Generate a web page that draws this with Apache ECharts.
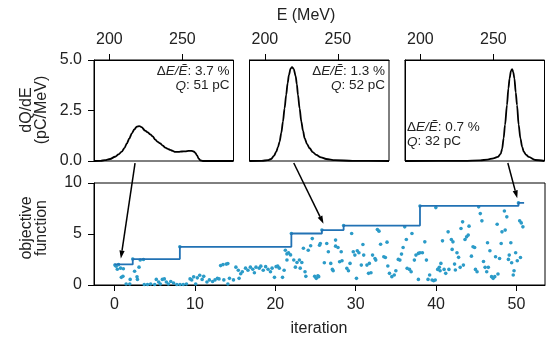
<!DOCTYPE html>
<html>
<head>
<meta charset="utf-8">
<script src="https://cdn.jsdelivr.net/npm/echarts@6/dist/echarts.min.js"></script>
<style>
  html, body {margin: 0; padding: 0; background: #fff;}
  #main {width: 546px; height: 339px;}
</style>
</head>
<body>
<div id="main"></div>
<script>
// electron spectra, E in MeV and dQ/dE in pC/MeV
const spec1E = [189.5, 194, 197, 200.5, 203.9, 206.3, 208.5, 210.3, 212, 213.7, 215.4, 217.1, 218.8, 220.5, 222, 224.5, 226.3, 228, 229.7, 231.4, 233.1, 234.8, 236.6, 238.3, 240, 241.7, 243.4, 245.1, 247.4, 249.7, 252, 254.3, 256.2, 257.7, 258.9, 260, 261.2, 262.3, 264, 285];
const spec1Q = [0, 0.01, 0.04, 0.1, 0.21, 0.33, 0.46, 0.64, 0.87, 1.12, 1.37, 1.56, 1.7, 1.73, 1.68, 1.5, 1.42, 1.32, 1.22, 1.06, 0.95, 0.87, 0.76, 0.66, 0.6, 0.55, 0.5, 0.45, 0.45, 0.47, 0.48, 0.5, 0.5, 0.47, 0.4, 0.28, 0.12, 0.03, 0, 0];
const spec2E = [189.5, 198, 202, 204.3, 206.2, 207.8, 209, 210.1, 211.3, 212.4, 213.5, 214.6, 215.6, 216.5, 217.6, 218.6, 219.8, 221.1, 221.9, 222.7, 223.8, 225, 226.1, 227.3, 228.8, 230.7, 232.8, 235.2, 238.5, 242, 248, 260, 285];
const spec2Q = [0, 0.01, 0.04, 0.1, 0.25, 0.46, 0.68, 0.96, 1.4, 1.95, 2.6, 3.27, 3.85, 4.26, 4.57, 4.65, 4.55, 4.2, 3.8, 3.27, 2.6, 1.95, 1.5, 1.12, 0.85, 0.63, 0.44, 0.3, 0.18, 0.1, 0.04, 0.01, 0];
const spec3E = [189.5, 230, 241, 246, 250, 253, 255, 256, 257, 258, 259.3, 260.3, 261.1, 262, 262.8, 263.6, 264.4, 265.3, 266.2, 267.3, 268.5, 269.7, 270.8, 272.5, 274.2, 278.7, 285];
const spec3Q = [0, 0.01, 0.03, 0.07, 0.13, 0.2, 0.35, 0.6, 1.12, 1.8, 2.77, 3.6, 4.09, 4.45, 4.55, 4.4, 4.09, 3.4, 2.77, 1.8, 1.12, 0.7, 0.46, 0.3, 0.2, 0.05, 0];
const spreads = ['3.7', '1.3', '0.7'];
const charges = ['51', '52', '32'];

// optimisation run: [iteration, objective]
const evaluations = [
  [0.05, 1.95], [0.2, 1.85], [0.35, 1.55], [0.5, 2.0], [0.75, 1.65], [1.1, 1.6], [0.85, 0.75], [1.05, 0.85],
  [1.45, 0.1], [1.95, 0.55], [1.9, 0.1], [2.27, 2.54], [2.5, 1.35], [2.8, 0.8], [2.85, 0.55], [3.05, 1.75],
  [3.2, 2.45], [3.6, 2.5], [3.7, 0.05], [4.1, 0.05], [4.5, 0.1], [5.0, 0.05], [5.2, 0.55], [5.5, 0.3],
  [5.7, 0.1], [5.95, 0.55], [6.2, 0.6], [6.45, 0.3], [6.7, 0.1], [7.0, 0.35], [7.35, 0.2], [7.75, 0.05],
  [8.13, 3.74], [8.15, 0.05], [8.55, 0.05], [8.95, 0.1], [9.4, 0.6], [9.6, 0.5], [9.85, 0.8], [10.1, 0.1],
  [10.3, 0.7], [10.6, 0.95], [10.9, 0.55], [11.1, 0.85], [11.5, 0.3], [11.8, 0.5], [12.2, 0.35], [12.5, 0.5],
  [12.8, 0.65], [13.0, 0.6], [13.2, 1.9], [13.5, 2.0], [13.9, 2.05], [14.1, 2.1], [13.6, 0.5], [14.3, 0.65],
  [14.8, 0.5], [14.1, 0.1], [15.1, 1.75], [15.4, 1.45], [15.7, 1.1], [15.9, 1.3], [15.5, 0.65], [16.3, 1.65],
  [16.6, 1.45], [16.9, 1.75], [17.2, 1.55], [17.4, 1.2], [17.6, 1.75], [18.0, 1.65], [18.2, 1.85], [18.5, 1.45],
  [18.8, 1.8], [19.1, 1.55], [19.4, 1.3], [19.6, 1.65], [19.9, 0.75], [20.1, 1.8], [20.3, 1.85], [20.5, 1.65],
  [20.9, 0.75], [21.1, 1.45], [21.25, 3.4], [21.45, 3.05], [21.65, 3.15], [21.9, 2.95], [21.45, 2.45], [22.0, 5.05],
  [22.3, 2.45], [22.5, 1.75], [22.7, 2.2], [23.0, 2.45], [23.1, 1.65], [23.3, 2.2], [23.5, 3.6], [23.7, 1.3],
  [23.8, 0.85], [24.1, 3.4], [24.4, 3.85], [24.6, 4.55], [24.9, 0.85], [25.1, 0.65], [25.3, 0.9], [25.5, 3.9],
  [25.8, 5.38], [25.6, 4.07], [26.4, 4.07], [26.6, 3.26], [25.4, 0.82], [26.1, 2.18], [26.9, 2.12], [27.1, 1.53],
  [27.2, 1.4], [27.5, 4.4], [27.5, 3.81], [27.8, 3.68], [28.2, 3.26], [28.0, 2.28], [28.3, 2.38], [28.5, 5.83],
  [28.9, 1.63], [29.1, 1.4], [29.3, 2.12], [29.5, 5.05], [29.7, 3.26], [29.9, 2.93], [30.2, 3.36], [30.4, 3.16],
  [30.1, 0.65], [30.7, 1.95], [30.9, 3.97], [31.0, 2.93], [31.4, 1.95], [31.6, 1.14], [31.7, 2.12], [31.9, 1.2],
  [32.1, 2.93], [32.4, 2.6], [32.5, 2.44], [32.7, 5.44], [32.9, 5.28], [33.1, 4.0], [33.5, 2.77], [33.7, 2.7],
  [33.9, 4.2], [34.0, 1.86], [34.2, 1.14], [34.5, 0.82], [34.8, 0.98], [35.0, 1.4], [35.3, 2.51], [35.5, 2.44],
  [35.7, 3.03], [35.9, 3.68], [36.1, 5.7], [36.3, 4.46], [36.4, 1.63], [36.7, 1.53], [36.9, 1.3], [37.0, 5.05],
  [37.3, 2.44], [37.5, 2.93], [37.8, 3.1], [38.0, 7.75], [38.0, 3.16], [38.3, 3.16], [37.8, 0.55], [38.6, 4.23],
  [38.8, 2.44], [39.0, 0.55], [39.2, 0.98], [39.97, 7.59], [39.5, 0.49], [39.7, 0.42], [39.9, 0.49], [40.2, 1.53],
  [40.4, 1.73], [40.6, 2.12], [40.5, 1.4], [40.8, 4.33], [41.0, 1.53], [41.2, 1.14], [41.5, 5.21], [41.6, 1.53],
  [41.9, 4.46], [42.1, 4.23], [42.0, 3.49], [42.3, 2.05], [42.4, 1.47], [42.6, 3.16], [42.8, 2.71], [43.0, 1.73],
  [43.1, 5.54], [43.3, 6.19], [43.4, 1.95], [43.6, 4.46], [43.8, 4.72], [44.0, 4.89], [44.1, 5.77], [44.4, 2.83],
  [44.6, 3.75], [44.8, 3.68], [44.9, 1.53], [45.1, 1.3], [45.3, 7.66], [45.5, 7.0], [45.7, 6.29], [45.9, 2.31],
  [46.1, 1.73], [46.3, 1.3], [46.4, 4.14], [46.5, 1.73], [46.7, 3.36], [46.9, 0.82], [47.1, 0.65], [47.3, 0.82],
  [47.4, 2.77], [47.6, 5.96], [47.7, 1.08], [47.9, 2.6], [48.1, 4.07], [48.2, 5.21], [48.5, 7.26], [48.6, 5.38],
  [48.8, 6.68], [49.0, 2.51], [49.1, 2.93], [49.3, 4.14], [49.4, 2.18], [49.6, 0.98], [49.7, 1.4], [49.9, 3.16],
  [50.1, 2.38], [50.25, 8.05], [50.4, 6.29], [50.6, 6.09], [50.8, 5.7], [50.5, 2.7]
];
// best objective so far
const bestX = [0, 2.27, 8.13, 22.0, 25.8, 28.5, 38.0, 50.25, 50.95];
const bestY = [2.02, 2.54, 3.74, 5.05, 5.38, 5.83, 7.75, 8.05, 8.05];

const energyTicks = [200, 250];
const iterTicks = [0, 10, 20, 30, 40, 50];

// arrows: start in spectrum panel (E, dQ/dE), end in the objective plot (iteration, objective)
const arrowFrom = [[217.6, -0.1], [219.8, -0.1], [259.9, -0.1]];
const arrowTo = [[0.79, 2.6], [26.0, 6.0], [50.1, 8.5]];

const FONT = 'Liberation Sans, Arial, sans-serif';
const TXT = '#222';
const FS = 16;
const panelLeft = [94, 249.5, 405];
const panelW = 139.5;

const chart = echarts.init(document.getElementById('main'));

const panelX = panelLeft.map((l, i) => ({
  gridIndex: i,
  type: 'value',
  position: 'top',
  min: 189.5,
  max: 285,
  axisLine: {show: true, onZero: false, lineStyle: {color: '#000', width: 1}},
  axisTick: {show: true, length: 6, customValues: energyTicks, lineStyle: {color: '#000'}},
  axisLabel: {customValues: energyTicks, fontSize: FS, fontFamily: FONT, color: TXT, margin: 12},
  splitLine: {show: false}
}));
const panelY = panelLeft.map((l, i) => ({
  gridIndex: i,
  type: 'value',
  min: 0,
  max: 5,
  interval: 2.5,
  axisLine: {show: true, onZero: false, lineStyle: {color: '#000', width: 1}},
  axisTick: {show: i === 0, length: 6, lineStyle: {color: '#000'}},
  axisLabel: {show: i === 0, fontSize: FS, fontFamily: FONT, color: TXT, margin: 12,
    formatter: v => v.toFixed(1)},
  splitLine: {show: false}
}));

const specs = [[spec1E, spec1Q], [spec2E, spec2Q], [spec3E, spec3Q]];

chart.setOption({
  animation: false,
  grid: [
    ...panelLeft.map(l => ({left: l, top: 60, width: panelW, height: 101, show: true,
      borderColor: '#000', borderWidth: 1})),
    {left: 94, top: 183, width: 451, height: 102, show: true, borderColor: '#000', borderWidth: 1}
  ],
  xAxis: [
    ...panelX,
    {
      gridIndex: 3, type: 'value', min: -2.55, max: 53.55,
      axisLine: {show: true, onZero: false, lineStyle: {color: '#000', width: 1}},
      axisTick: {show: true, length: 6, customValues: iterTicks, lineStyle: {color: '#000'}},
      axisLabel: {customValues: iterTicks, fontSize: FS, fontFamily: FONT, color: TXT, margin: 12},
      splitLine: {show: false}
    }
  ],
  yAxis: [
    ...panelY,
    {
      gridIndex: 3, type: 'value', min: 0, max: 10, interval: 5,
      axisLine: {show: true, onZero: false, lineStyle: {color: '#000', width: 1}},
      axisTick: {show: true, length: 6, lineStyle: {color: '#000'}},
      axisLabel: {fontSize: FS, fontFamily: FONT, color: TXT, margin: 12},
      splitLine: {show: false}
    }
  ],
  series: [
    ...specs.map(([es, qs], i) => ({
      type: 'line',
      xAxisIndex: i,
      yAxisIndex: i,
      data: es.map((e, k) => [e, qs[k]]),
      showSymbol: false,
      smooth: 0.3,
      smoothMonotone: 'x',
      lineStyle: {color: '#000', width: 1.8},
      itemStyle: {color: '#000'}
    })),
    {
      type: 'scatter',
      xAxisIndex: 3,
      yAxisIndex: 3,
      data: evaluations,
      symbolSize: 3.6,
      itemStyle: {color: '#2b9bc8', opacity: 1}
    },
    {
      type: 'line',
      xAxisIndex: 3,
      yAxisIndex: 3,
      step: 'end',
      data: bestX.map((x, k) => [x, bestY[k]]),
      showSymbol: false,
      lineStyle: {color: '#2272b4', width: 1.8},
      itemStyle: {color: '#2272b4'},
      z: 5
    }
  ]
});

const rich = {
  n: {fontSize: 13.5, fontFamily: FONT, fill: TXT, lineHeight: 14.5},
  i: {fontSize: 13.5, fontFamily: FONT, fill: TXT, fontStyle: 'italic', lineHeight: 14.5}
};
const noteText = i => '{n|Δ}{i|E/Ẽ}{n|: ' + spreads[i] + ' %}\n{i|Q}{n|: ' + charges[i] + ' pC}';

const graphics = [
  {type: 'text', x: 306, y: 16, style: {text: 'E (MeV)', font: FS + 'px ' + FONT, fill: TXT,
    align: 'center', verticalAlign: 'middle'}},
  {type: 'text', x: 34, y: 110, rotation: Math.PI / 2, style: {text: 'dQ/dE\n(pC/MeV)',
    font: FS + 'px ' + FONT, fill: TXT, align: 'center', verticalAlign: 'middle', lineHeight: 15}},
  {type: 'text', x: 34, y: 228, rotation: Math.PI / 2, style: {text: 'objective\nfunction',
    font: FS + 'px ' + FONT, fill: TXT, align: 'center', verticalAlign: 'middle', lineHeight: 15}},
  {type: 'text', x: 319, y: 329, style: {text: 'iteration', font: FS + 'px ' + FONT, fill: TXT,
    align: 'center', verticalAlign: 'middle'}},
  {type: 'text', x: panelLeft[0] + panelW - 4, y: 64, style: {text: noteText(0), rich,
    align: 'right', verticalAlign: 'top'}},
  {type: 'text', x: panelLeft[1] + panelW - 4, y: 64, style: {text: noteText(1), rich,
    align: 'right', verticalAlign: 'top'}},
  {type: 'text', x: panelLeft[2] + 2, y: 120, style: {text: noteText(2), rich,
    align: 'left', verticalAlign: 'top'}}
];

arrowFrom.forEach((from, i) => {
  const p0 = chart.convertToPixel({gridIndex: i}, from);
  const p1 = chart.convertToPixel({gridIndex: 3}, arrowTo[i]);
  const dx = p1[0] - p0[0], dy = p1[1] - p0[1];
  const len = Math.sqrt(dx * dx + dy * dy);
  const ux = dx / len, uy = dy / len;
  const head = 8, half = 2.6;
  const bx = p1[0] - ux * head, by = p1[1] - uy * head;
  graphics.push({type: 'line', shape: {x1: p0[0], y1: p0[1], x2: bx, y2: by},
    style: {stroke: '#000', lineWidth: 1.5}, z: 10});
  graphics.push({type: 'polygon', shape: {points: [
    [p1[0], p1[1]], [bx - uy * half, by + ux * half], [bx + uy * half, by - ux * half]
  ]}, style: {fill: '#000'}, z: 10});
});

chart.setOption({graphic: graphics});
</script>
</body>
</html>
